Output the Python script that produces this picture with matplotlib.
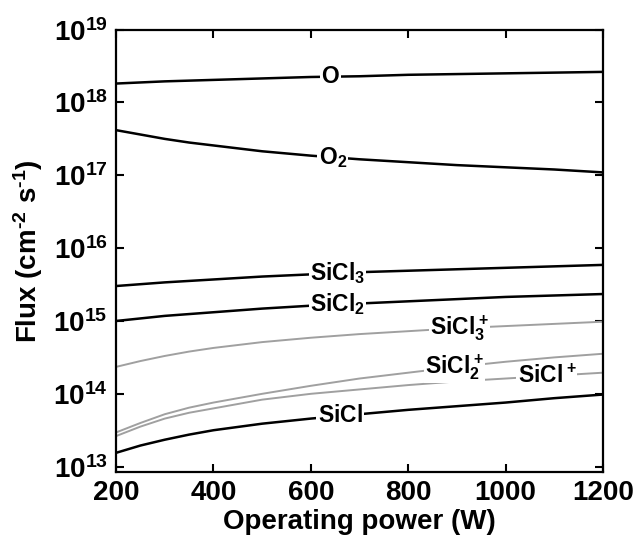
import numpy as np
import matplotlib
matplotlib.use('Agg')
import matplotlib.pyplot as plt
from matplotlib.ticker import FixedLocator, FuncFormatter

plt.rcParams['font.family'] = ['Liberation Sans', 'DejaVu Sans']
plt.rcParams['font.weight'] = 'bold'
plt.rcParams['mathtext.fontset'] = 'custom'
plt.rcParams['mathtext.bf'] = 'Liberation Sans:bold'
plt.rcParams['mathtext.rm'] = 'Liberation Sans:bold'
plt.rcParams['mathtext.default'] = 'bf'

# operating power (W)
power = [200, 250, 300, 350, 400, 500, 600, 700, 800, 900, 1000, 1100, 1200]

# fluxes, as log10(cm^-2 s^-1)
log_O = [18.26, 18.275, 18.29, 18.30, 18.31, 18.33, 18.35, 18.36, 18.38, 18.39, 18.40, 18.41, 18.42]
log_O2 = [17.62, 17.56, 17.50, 17.45, 17.41, 17.33, 17.27, 17.22, 17.18, 17.14, 17.11, 17.08, 17.04]
log_SiCl3 = [15.48, 15.505, 15.53, 15.55, 15.57, 15.61, 15.64, 15.67, 15.69, 15.71, 15.73, 15.75, 15.77]
log_SiCl2 = [15.00, 15.035, 15.07, 15.095, 15.12, 15.17, 15.21, 15.24, 15.27, 15.30, 15.33, 15.35, 15.37]
log_SiCl3p = [14.37, 14.45, 14.52, 14.58, 14.63, 14.71, 14.77, 14.82, 14.86, 14.90, 14.93, 14.96, 14.99]
log_SiCl2p = [13.47, 13.60, 13.72, 13.81, 13.88, 14.00, 14.11, 14.21, 14.29, 14.37, 14.44, 14.50, 14.55]
log_SiClp = [13.42, 13.55, 13.66, 13.74, 13.80, 13.92, 14.00, 14.06, 14.12, 14.17, 14.21, 14.25, 14.29]
log_SiCl = [13.19, 13.29, 13.37, 13.44, 13.50, 13.59, 13.66, 13.72, 13.78, 13.83, 13.88, 13.94, 13.99]

# (series, label, colour, label position in W)
series = [
    (log_O, r'$O$', 'black', 640),
    (log_O2, r'$O_2$', 'black', 645),
    (log_SiCl3, r'$SiCl_3$', 'black', 655),
    (log_SiCl2, r'$SiCl_2$', 'black', 655),
    (log_SiCl3p, r'$SiCl_3^+$', '#a0a0a0', 905),
    (log_SiCl2p, r'$SiCl_2^+$', '#a0a0a0', 895),
    (log_SiClp, r'$SiCl^+$', '#a0a0a0', 1085),
    (log_SiCl, r'$SiCl$', 'black', 660),
]

fig = plt.figure(figsize=(6.38, 5.39), dpi=100)
ax = fig.add_axes([0.182, 0.124, 0.763, 0.821])

for vals, label, color, xpos in series:
    y = 10 ** np.array(vals)
    lw = 1.8 if color == 'black' else 1.4
    ax.plot(power, y, color=color, lw=lw, zorder=2)
    ylab = 10 ** np.interp(xpos, power, vals)
    ax.text(xpos, ylab, label, fontsize=16.5, ha='center', va='center',
            color='black', zorder=3,
            bbox=dict(boxstyle='square,pad=0.05', fc='white', ec='none'))

ax.set_yscale('log')
ax.set_xlim(200, 1200)
ax.set_ylim(8.4e12, 1e19)
ax.xaxis.set_major_locator(FixedLocator([200, 400, 600, 800, 1000, 1200]))
ax.yaxis.set_major_locator(FixedLocator([10.0 ** k for k in range(13, 20)]))
ax.yaxis.set_minor_locator(FixedLocator([]))
ax.yaxis.set_major_formatter(FuncFormatter(lambda v, p: r'$10^{%d}$' % round(np.log10(v))))
ax.tick_params(which='both', direction='in', top=True, right=True,
               length=6, width=1.5, labelsize=20, pad=6)

for s in ax.spines.values():
    s.set_linewidth(1.6)

ax.set_xlabel('Operating power (W)', fontsize=20, fontweight='bold', labelpad=2)
ax.set_ylabel(r'Flux (cm$^{\text{-}2}$ s$^{\text{-}1}$)', fontsize=20, fontweight='bold', labelpad=6)

fig.savefig('out.png', dpi=100)
